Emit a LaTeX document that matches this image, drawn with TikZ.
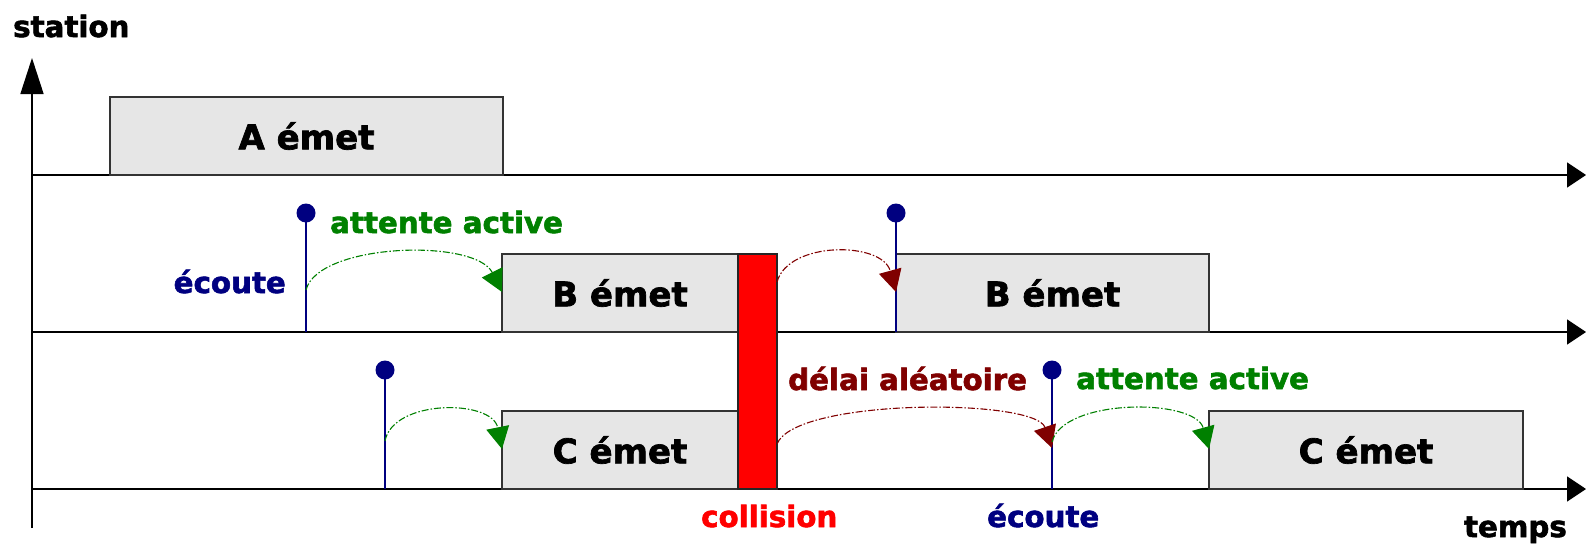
\documentclass[tikz,border=0pt]{standalone}
\usepackage{fontspec}
\setmainfont{DejaVu Sans}
\newfontfamily\heavyfont{DejaVu Sans Bold}[FakeBold=2]
\usetikzlibrary{arrows.meta}
\definecolor{boxgray}{HTML}{E6E6E6}
\definecolor{navyc}{HTML}{000080}
\definecolor{greenc}{HTML}{008000}
\definecolor{darkredc}{HTML}{800000}
\definecolor{redc}{HTML}{FF0000}
\begin{document}
\begin{tikzpicture}[x=1pt,y=-1pt,
  box/.style={draw=black!80, fill=boxgray, line width=1.2pt, inner sep=0pt, outer sep=0pt, font=\fontsize{34}{40}\heavyfont},
  lbl/.style={inner sep=0pt, font=\fontsize{29.3}{35}\heavyfont},
  haxis/.style={line width=1.5pt, -{Triangle[length=19pt,width=25pt]}},
  vaxis/.style={line width=1.5pt, -{Triangle[length=36pt,width=23pt]}},
  pinline/.style={draw=navyc, line width=1.2pt},
  pindot/.style={circle, fill=navyc, minimum size=19pt, inner sep=0pt},
  arcline/.style={line width=1.1pt, dash pattern=on 7pt off 2pt on 1.5pt off 2pt, -{Triangle[length=22pt,width=23pt]}}
]
\useasboundingbox (0,0) rectangle (1586,552);

% axes
\coordinate (O) at (32,528);
\coordinate (Ytop) at (32,58);
\coordinate (l1s) at (32,175);   \coordinate (l1e) at (1586,175);
\coordinate (l2s) at (32,332);   \coordinate (l2e) at (1586,332);
\coordinate (l3s) at (32,489);   \coordinate (l3e) at (1586,489);
\draw[vaxis] (O) -- (Ytop);
\draw[haxis] (l1s) -- (l1e);
\draw[haxis] (l2s) -- (l2e);
\draw[haxis] (l3s) -- (l3e);

% boxes
\node[box, minimum width=393pt, minimum height=78pt] (A) at (306.5,136) {A émet};
\node[box, minimum width=236pt, minimum height=78pt] (B1) at (620,293) {B émet};
\node[box, minimum width=236pt, minimum height=78pt] (C1) at (620,450) {C émet};
\node[box, minimum width=313pt, minimum height=78pt] (B2) at (1052.5,293) {B émet};
\node[box, minimum width=314pt, minimum height=78pt] (C2) at (1366,450) {C émet};
\node[draw=black!85, fill=redc, line width=1.2pt, inner sep=0pt, outer sep=0pt,
      minimum width=39pt, minimum height=235pt] (coll) at (757.5,371.5) {};

% pins
\node[pindot] (p1) at (306,213) {};
\coordinate (p1b) at (306,332);
\node[pindot] (p2) at (385,370) {};
\coordinate (p2b) at (385,489);
\node[pindot] (p3) at (896,213) {};
\coordinate (p3b) at (896,332);
\node[pindot] (p4) at (1052,370) {};
\coordinate (p4b) at (1052,489);
\draw[pinline] (p1.center) -- (p1b);
\draw[pinline] (p2.center) -- (p2b);
\draw[pinline] (p3.center) -- (p3b);
\draw[pinline] (p4.center) -- (p4b);

% arcs
\coordinate (a1s) at (306,290);  \coordinate (a1e) at (502,292);
\coordinate (a2s) at (385,441);  \coordinate (a2e) at (502,449);
\coordinate (a3s) at (777,282);  \coordinate (a3e) at (896,292);
\coordinate (a4s) at (777,444);  \coordinate (a4e) at (1052,448);
\coordinate (a5s) at (1052,442); \coordinate (a5e) at (1209,449);
\draw[arcline, greenc] (a1s) .. controls (318,243) and (475,238) .. (a1e);
\draw[arcline, greenc] (a2s) .. controls (393,399) and (492,399) .. (a2e);
\draw[arcline, darkredc] (a3s) .. controls (788,241) and (882,241) .. (a3e);
\draw[arcline, darkredc] (a4s) .. controls (795,398) and (1035,398) .. (a4e);
\draw[arcline, greenc] (a5s) .. controls (1063,398) and (1195,398) .. (a5e);

% labels
\node[lbl, anchor=base west] (station) at (13,37) {station};
\node[lbl, anchor=base east] (temps) at (1567,537) {temps};
\node[lbl, text=greenc, anchor=base west] (att1) at (330,233) {attente active};
\node[lbl, text=navyc, anchor=base east] (ec1) at (286,293) {écoute};
\node[lbl, text=darkredc, anchor=base west] (delai) at (788,390) {délai aléatoire};
\node[lbl, text=greenc, anchor=base west] (att2) at (1076,389) {attente active};
\node[lbl, text=redc, anchor=base west] (colltxt) at (701,527) {collision};
\node[lbl, text=navyc, anchor=base west] (ec2) at (987,527) {écoute};
\end{tikzpicture}
\end{document}
